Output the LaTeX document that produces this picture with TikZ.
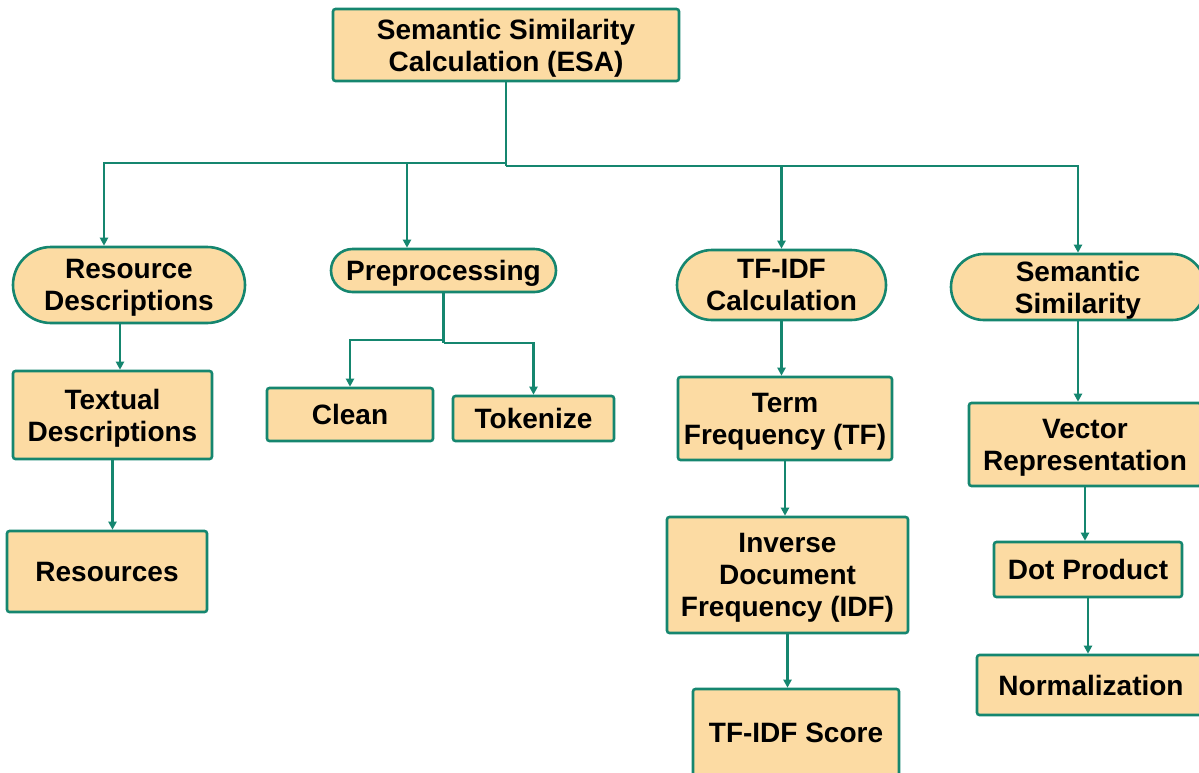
\documentclass[tikz,border=0pt]{standalone}
\usepackage{fontspec}
\setmainfont{Liberation Sans}
\usetikzlibrary{arrows.meta}
\definecolor{peach}{HTML}{FCDBA3}
\definecolor{tealc}{HTML}{15866F}
\begin{document}
\begin{tikzpicture}[x=1pt,y=-1pt,
  box/.style={draw=tealc, fill=peach, line width=2.6pt, rounded corners=2.5pt,
    inner sep=0pt, align=center, text=black, text depth=0pt,
    font=\fontsize{28}{32}\selectfont\bfseries},
  pill/.style={box, rounded corners=#1},
  conn/.style={draw=tealc, line width=2.4pt},
  arr/.style={conn, -{Triangle[length=8pt,width=8pt]}}]
\clip (0,0) rectangle (1199,772);
\fill[white] (0,0) rectangle (1199,772);
% nodes
\node[box, minimum width=346pt, minimum height=72pt] (top) at (506,45) {Semantic Similarity\\Calculation (ESA)};
\node[pill=38pt, minimum width=232pt, minimum height=76pt] (rd) at (129,285) {Resource\\Descriptions};
\node[pill=21.5pt, minimum width=225pt, minimum height=43pt] (prep) at (443.5,270.5) {Preprocessing};
\node[pill=35pt, minimum width=209pt, minimum height=70pt] (tc) at (781.5,285) {TF-IDF\\Calculation};
\node[pill=33pt, minimum width=254pt, minimum height=66pt] (ss) at (1078,287) {Semantic\\Similarity};
\node[box, minimum width=199pt, minimum height=88pt] (tx) at (112.5,415) {Textual\\Descriptions};
\node[box, minimum width=200pt, minimum height=81pt] (res) at (107,571.5) {Resources};
\node[box, minimum width=166pt, minimum height=53pt] (clean) at (350,414.5) {Clean};
\node[box, minimum width=161pt, minimum height=45pt] (tok) at (533.5,418.5) {Tokenize};
\node[box, minimum width=214pt, minimum height=83pt] (tf) at (785,418.5) {Term\\Frequency (TF)};
\node[box, minimum width=241pt, minimum height=116pt] (idf) at (787.5,575) {Inverse\\Document\\Frequency (IDF)};
\node[box, minimum width=206pt, minimum height=87pt] (score) at (796,732.5) {TF-IDF Score};
\node[box, minimum width=232pt, minimum height=83pt] (vec) at (1085,444.5) {Vector\\Representation};
\node[box, minimum width=188pt, minimum height=55pt] (dot) at (1088,569.5) {Dot Product};
\node[box, minimum width=228pt, minimum height=60pt] (norm) at (1091,685) {Normalization};
% hubs
\coordinate (hubL) at (506,163);
\coordinate (hubR) at (506,166);
\coordinate (pj) at (443.5,340);
\coordinate (pk) at (443.5,343);
% connectors
\draw[conn] (top.south) -- (hubR);
\draw[arr] (hubL) -| ([xshift=-25pt]rd.north);
\draw[arr] (hubL) -| ([xshift=-36.5pt]prep.north);
\draw[arr] (hubR) -| (tc.north);
\draw[arr] (hubR) -| (ss.north);
\draw[arr] ([xshift=7.5pt]tx.north |- rd.south) -- ([xshift=7.5pt]tx.north);
\draw[arr] (tx.south) -- (tx.south |- res.north);
\draw[conn] (prep.south) -- (pk);
\draw[arr] (pj) -| (clean.north);
\draw[arr] (pk) -| (tok.north);
\draw[arr] (tc.south) -- (tc.south |- tf.north);
\draw[arr] (tf.south) -- (tf.south |- idf.north);
\draw[arr] (idf.south) -- (idf.south |- score.north);
\draw[arr] (ss.south) -- (ss.south |- vec.north);
\draw[arr] (vec.south) -- (vec.south |- dot.north);
\draw[arr] (dot.south) -- (dot.south |- norm.north);
\end{tikzpicture}
\end{document}
